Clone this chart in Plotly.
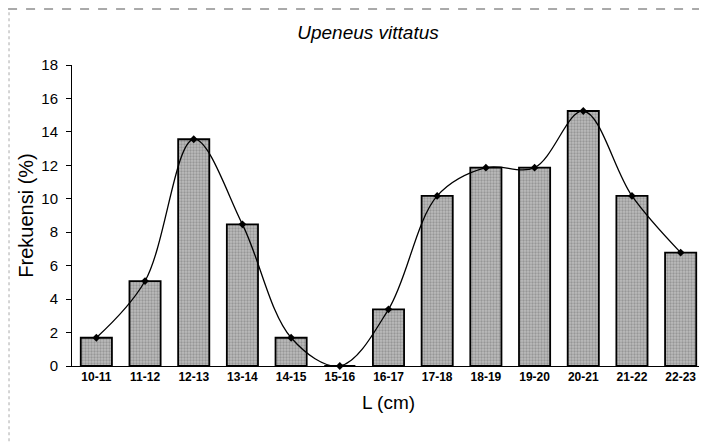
import plotly.graph_objects as go

categories = ["10-11", "11-12", "12-13", "13-14", "14-15", "15-16", "16-17",
              "17-18", "18-19", "19-20", "20-21", "21-22", "22-23"]
frekuensi = [1.69, 5.08, 13.56, 8.47, 1.69, 0.0, 3.39,
             10.17, 11.86, 11.86, 15.25, 10.17, 6.78]
y_ticks = [0, 2, 4, 6, 8, 10, 12, 14, 16, 18]

fig = go.Figure()
fig.add_trace(go.Bar(
    x=categories, y=frekuensi,
    marker=dict(color="#b4b4b4",
                line=dict(color="black", width=1.8),
                pattern=dict(shape=".", fgcolor="#707070", bgcolor="#bcbcbc",
                             size=3, solidity=0.45)),
    width=0.64, showlegend=False,
))
fig.add_trace(go.Scatter(
    x=categories, y=frekuensi, mode="lines+markers",
    line=dict(color="black", width=1.3, shape="spline", smoothing=1.0),
    marker=dict(symbol="diamond", size=6, color="black"),
    showlegend=False, cliponaxis=False,
))

fig.update_layout(
    width=699, height=435,
    margin=dict(l=64, r=2, t=57, b=77),
    paper_bgcolor="white", plot_bgcolor="white",
    font=dict(family="Liberation Sans, Arial, sans-serif", color="black"),
    title=dict(text="<i>Upeneus vittatus</i>", x=0.515, xanchor="center",
               y=0.943, yanchor="middle", font=dict(size=19)),
    xaxis=dict(
        type="category", range=[-0.5, len(categories) - 0.5],
        showline=True, linecolor="black", linewidth=1,
        ticks="", tickfont=dict(size=12, family="Liberation Sans", weight="bold"),
        title=dict(text="L (cm)", font=dict(size=19), standoff=12),
        showgrid=False, automargin=False,
    ),
    yaxis=dict(
        range=[0, 18], tickvals=y_ticks, showline=True, linecolor="black",
        linewidth=1, ticks="outside", ticklen=5, tickcolor="black",
        ticklabelstandoff=5,
        tickfont=dict(size=15), showgrid=False, zeroline=False,
        title=dict(text="Frekuensi (%)", font=dict(size=20), standoff=2),
        automargin=False,
    ),
    shapes=[
        dict(type="line", xref="paper", yref="paper", x0=-0.101, x1=1.003,
             y0=1.186, y1=1.186, line=dict(color="#555", width=1, dash="dash")),
        dict(type="line", xref="paper", yref="paper", x0=-0.0995, x1=-0.0995,
             y0=-0.25, y1=1.18, line=dict(color="#aaa", width=1, dash="dot")),
    ],
)

fig.write_html("out.html")
